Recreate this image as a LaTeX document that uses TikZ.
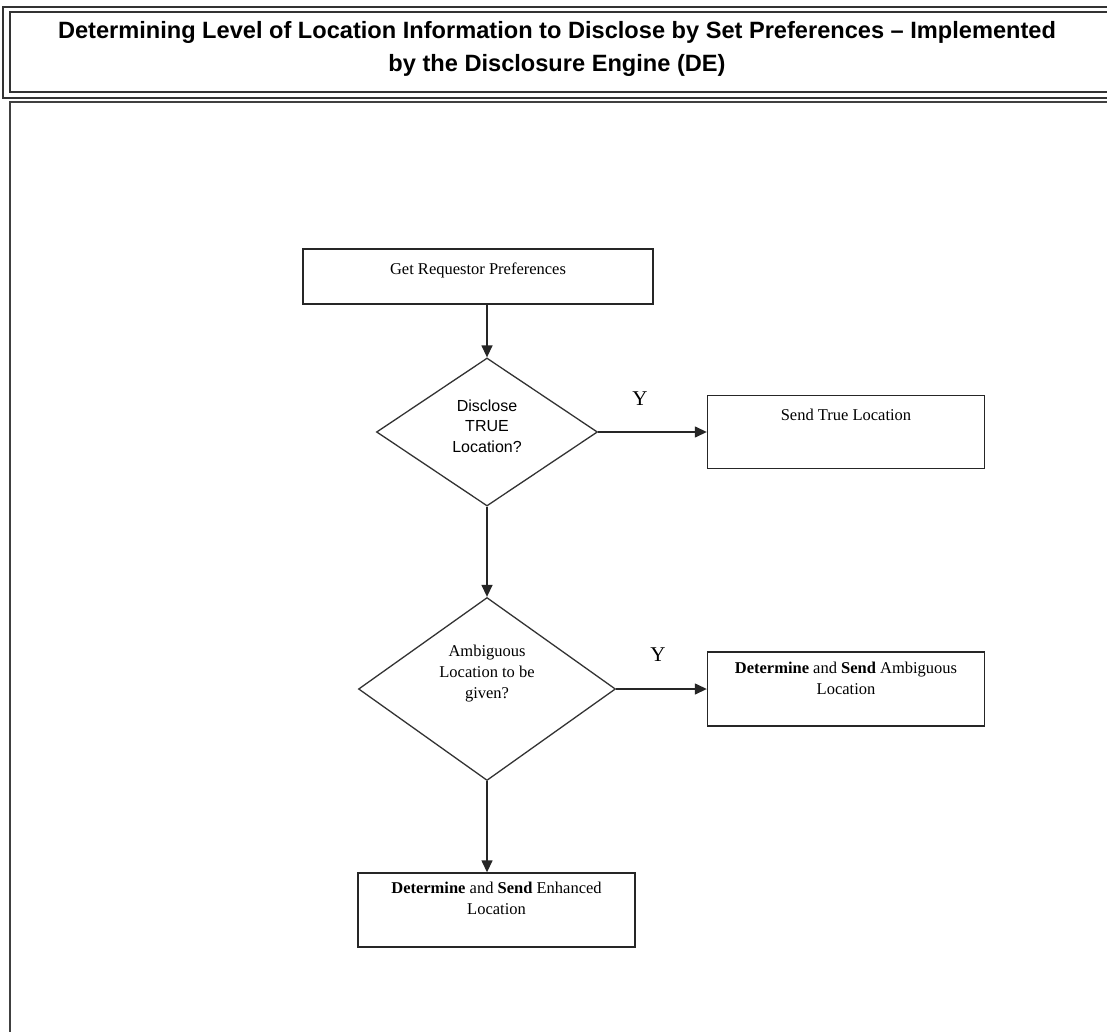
\documentclass[tikz,border=0pt]{standalone}
\usepackage{fontspec}
\setmainfont{Liberation Serif}
\setsansfont{Liberation Sans}
\usetikzlibrary{positioning,arrows.meta,shapes.geometric}
\definecolor{frmGray}{HTML}{404040}

\begin{document}
\begin{tikzpicture}[x=1pt,y=-1pt,
    box/.style={draw=black!85, line width=1.4pt, inner sep=0pt},
    dec/.style={diamond, draw=black!80, line width=1.3pt, inner sep=0pt, aspect=1.5},
    txt/.style={inner sep=0pt, align=center, font=\fontsize{16.5}{21}\selectfont},
    ytxt/.style={inner sep=0pt, font=\fontsize{21}{24}\selectfont},
    flow/.style={-{Triangle[length=12pt,width=11pt]}, line width=1.4pt, draw=black!85}]
  \useasboundingbox (0,0) rectangle (1107,1032);
  \fill[white] (0,0) rectangle (1107,1032);
  % title frame
  \draw[line width=1.2pt, draw=black!80] (3,7) rectangle (1120,98);
  \draw[line width=1.2pt, draw=black!80] (10,12) rectangle (1120,92);
  \node[align=center, inner sep=0pt, font=\sffamily\bfseries\fontsize{23.6}{33}\selectfont] (title) at (557,49)
    {Determining Level of Location Information to Disclose by Set Preferences – Implemented\\by the Disclosure Engine (DE)};
  % diagram frame
  \draw[line width=1.6pt, draw=frmGray] (10,102) rectangle (1120,1045);

  \node[box, minimum width=350, minimum height=55] (get) at (478,276.5) {};
  \node[txt, below=14pt of get.north] (gett) {Get Requestor Preferences};

  \node[dec, minimum width=221, minimum height=148] (d1) at (487,432) {};
  \node[txt, font=\sffamily\fontsize{16}{20.5}\selectfont] (d1t) at ([yshift=6pt]d1.center) {Disclose\\TRUE\\Location?};

  \node[box, minimum width=277, minimum height=73] (strue) at (846,432) {};
  \node[txt, below=14pt of strue.north] (struet) {Send True Location};

  \node[dec, minimum width=257, minimum height=183] (d2) at (487,689) {};
  \node[txt] (d2t) at ([yshift=15pt]d2.center) {Ambiguous\\Location to be\\given?};

  \node[box, minimum width=277, minimum height=74] (ambg) at (846,689) {};
  \node[txt, below=11pt of ambg.north] (ambgt) {\textbf{Determine} and \textbf{Send} Ambiguous\\Location};

  \node[box, minimum width=277, minimum height=74] (enh) at (496.5,910) {};
  \node[txt, below=10pt of enh.north] (enht) {\textbf{Determine} and \textbf{Send} Enhanced\\Location};

  \node[ytxt] (y1) at (640,399) {Y};
  \node[ytxt] (y2) at (658,655) {Y};

  \draw[flow] (get.south -| d1.north) -- (d1.north);
  \draw[flow] (d1.east) -- (strue.west);
  \draw[flow] (d1.south) -- (d2.north);
  \draw[flow] (d2.east) -- (ambg.west);
  \draw[flow] (d2.south) -- (d2.south |- enh.north);
\end{tikzpicture}
\end{document}
